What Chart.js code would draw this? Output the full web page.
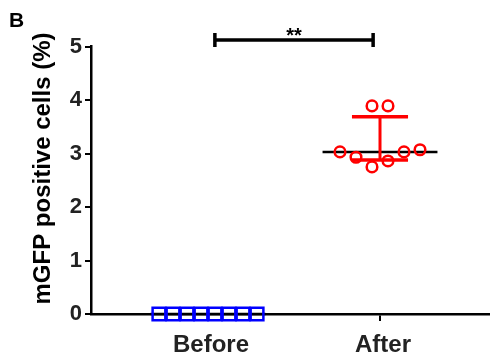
<!DOCTYPE html>
<html>
<head>
<meta charset="utf-8">
<script src="https://cdn.jsdelivr.net/npm/chart.js@4/dist/chart.umd.min.js"></script>
<style>
  html, body { margin: 0; padding: 0; background: #fff; }
  #wrap { width: 490px; height: 363px; position: relative; }
</style>
</head>
<body>
<div id="wrap"><canvas id="c" width="490" height="363"></canvas></div>
<script>
// ---- data ----
const categories = ['Before', 'After'];
const beforeValues = [0, 0, 0, 0, 0, 0, 0, 0];
const afterValues = [3.03, 2.93, 3.89, 2.75, 3.89, 2.86, 3.03, 3.07];
const yTicks = [0, 1, 2, 3, 4, 5];
const yTitle = 'mGFP positive cells (%)';
const panelLabel = 'B';
const significanceLabel = '**';
const significancePair = [0, 1]; // category indices compared

// ---- layout / style (not data) ----
const FONT = '"Liberation Sans", Arial, Helvetica, sans-serif';
const beforeJitter = [-0.285, -0.2035, -0.122, -0.0407, 0.0407, 0.122, 0.2035, 0.285];
const afterJitter = [-0.2326, -0.1395, -0.0465, -0.0465, 0.0465, 0.0465, 0.1395, 0.2326];
const medianHalf = 0.334;
const capHalf = 0.163;

function quantile(arr, p) {
  const s = arr.slice().sort((a, b) => a - b);
  const pos = p * (s.length + 1);
  const lo = Math.floor(pos), frac = pos - lo;
  if (lo < 1) return s[0];
  if (lo >= s.length) return s[s.length - 1];
  return s[lo - 1] + frac * (s[lo] - s[lo - 1]);
}
const groups = [beforeValues, afterValues];
const stats = groups.map(g => ({ med: quantile(g, 0.5), q1: quantile(g, 0.25), q3: quantile(g, 0.75) }));
const groupColors = ['#0000FF', '#FF0000'];

const toPoints = (vals, jit, xc) => vals.map((v, i) => ({ x: xc + jit[i], y: v }));

const overlay = {
  id: 'overlay',
  beforeDatasetsDraw(chart) {
    const { ctx, scales: { x, y } } = chart;
    ctx.save();
    stats.forEach((s, i) => {
      const xc = i + 1;
      ctx.strokeStyle = '#000';
      ctx.lineWidth = 2.5;
      ctx.beginPath();
      ctx.moveTo(x.getPixelForValue(xc - medianHalf), y.getPixelForValue(s.med));
      ctx.lineTo(x.getPixelForValue(xc + medianHalf), y.getPixelForValue(s.med));
      ctx.stroke();
      if (s.q3 - s.q1 > 0) {
        ctx.strokeStyle = groupColors[i];
        ctx.lineWidth = 3;
        ctx.beginPath();
        ctx.moveTo(x.getPixelForValue(xc), y.getPixelForValue(s.q3));
        ctx.lineTo(x.getPixelForValue(xc), y.getPixelForValue(s.q1));
        ctx.stroke();
        ctx.lineWidth = 3.5;
        [s.q1, s.q3].forEach(q => {
          ctx.beginPath();
          ctx.moveTo(x.getPixelForValue(xc - capHalf), y.getPixelForValue(q));
          ctx.lineTo(x.getPixelForValue(xc + capHalf), y.getPixelForValue(q));
          ctx.stroke();
        });
      }
    });
    ctx.restore();
  },
  afterDraw(chart) {
    const { ctx, scales: { x, y } } = chart;
    ctx.save();
    const by = y.getPixelForValue(5.12);
    const x1 = x.getPixelForValue(significancePair[0] + 1 + 0.04);
    const x2 = x.getPixelForValue(significancePair[1] + 1 - 0.04);
    ctx.strokeStyle = '#000';
    ctx.lineWidth = 3.5;
    ctx.beginPath();
    ctx.moveTo(x1, by); ctx.lineTo(x2, by);
    ctx.moveTo(x1, by - 7); ctx.lineTo(x1, by + 7);
    ctx.moveTo(x2, by - 7); ctx.lineTo(x2, by + 7);
    ctx.stroke();
    ctx.fillStyle = '#000';
    ctx.font = 'bold 20px ' + FONT;
    ctx.textAlign = 'center';
    ctx.textBaseline = 'alphabetic';
    ctx.fillText(significanceLabel, (x1 + x2) / 2, by + 2);
    ctx.font = 'bold 21px ' + FONT;
    ctx.textAlign = 'left';
    ctx.fillText(panelLabel, 9, 27);
    ctx.font = 'bold 24px ' + FONT;
    ctx.translate(49.5, 168.5);
    ctx.rotate(-Math.PI / 2);
    ctx.textAlign = 'center';
    ctx.fillText(yTitle, 0, 0);
    ctx.restore();
  }
};

new Chart(document.getElementById('c'), {
  type: 'scatter',
  data: {
    datasets: [
      {
        label: categories[0],
        data: toPoints(beforeValues, beforeJitter, 1),
        pointStyle: 'rect',
        pointRadius: 9,
        pointHoverRadius: 9,
        borderColor: '#0000FF',
        backgroundColor: 'rgba(0,0,0,0)',
        borderWidth: 2.5,
        clip: false
      },
      {
        label: categories[1],
        data: toPoints(afterValues, afterJitter, 2),
        pointStyle: 'circle',
        pointRadius: 5.3,
        pointHoverRadius: 5.3,
        borderColor: '#FF0000',
        backgroundColor: 'rgba(0,0,0,0)',
        borderWidth: 2.5,
        clip: false
      }
    ]
  },
  options: {
    responsive: false,
    animation: false,
    events: [],
    layout: { autoPadding: false, padding: { top: 46.5, left: 0, right: 0, bottom: 0 } },
    plugins: { legend: { display: false }, tooltip: { enabled: false } },
    scales: {
      x: {
        type: 'linear',
        min: 0.3198,
        max: 2.6395,
        afterFit(s) { s.height = 49; s.paddingLeft = 0; s.paddingRight = 0; },
        afterBuildTicks(s) { s.ticks = categories.map((c, i) => ({ value: i + 1 })); },
        ticks: {
          autoSkip: false,
          maxRotation: 0,
          color: '#222',
          padding: 10,
          labelOffset: 3,
          font: { family: FONT, size: 24, weight: 'bold' },
          callback: v => categories[v - 1]
        },
        grid: { drawOnChartArea: false, drawTicks: true, tickLength: 7, color: '#000', lineWidth: 2 },
        border: { color: '#000', width: 2.5 }
      },
      y: {
        min: 0,
        max: 5,
        afterFit(s) { s.width = 91; },
        afterBuildTicks(s) { s.ticks = yTicks.map(v => ({ value: v })); },
        ticks: {
          color: '#222',
          padding: 3,
          font: { family: FONT, size: 22, weight: 'bold' }
        },
        grid: { drawOnChartArea: false, drawTicks: true, tickLength: 6, color: '#000', lineWidth: 2 },
        border: { color: '#000', width: 2.5 }
      }
    }
  },
  plugins: [overlay]
});
</script>
</body>
</html>
